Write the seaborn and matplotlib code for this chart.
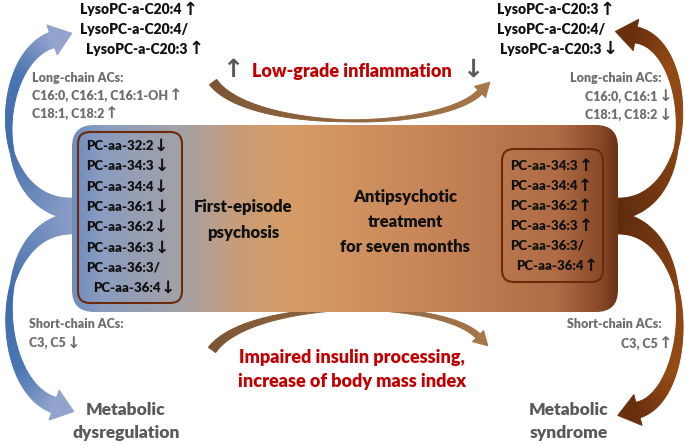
import numpy as np
import matplotlib
matplotlib.use("Agg")
import matplotlib.pyplot as plt
import seaborn as sns
from matplotlib.patches import FancyBboxPatch, Polygon
from matplotlib.colors import LinearSegmentedColormap

# ---- content ----
left_pc = ["PC-aa-32:2", "PC-aa-34:3", "PC-aa-34:4", "PC-aa-36:1",
           "PC-aa-36:2", "PC-aa-36:3", "PC-aa-36:3/", "PC-aa-36:4"]
left_pc_dir = ["↓", "↓", "↓", "↓", "↓", "↓", "", "↓"]
right_pc = ["PC-aa-34:3", "PC-aa-34:4", "PC-aa-36:2", "PC-aa-36:3",
            "PC-aa-36:3/", "PC-aa-36:4"]
right_pc_dir = ["↑", "↑", "↑", "↑", "", "↑"]

left_lyso = ["LysoPC-a-C20:4", "LysoPC-a-C20:4/", "LysoPC-a-C20:3"]
left_lyso_dir = ["↑", "", "↑"]
right_lyso = ["LysoPC-a-C20:3", "LysoPC-a-C20:4/", "LysoPC-a-C20:3"]
right_lyso_dir = ["↑", "", "↓"]

left_long = ["Long-chain ACs:", "C16:0, C16:1, C16:1-OH", "C18:1, C18:2"]
left_long_dir = ["", "↑", "↑"]
right_long = ["Long-chain ACs:", "C16:0, C16:1", "C18:1, C18:2"]
right_long_dir = ["", "↓", "↓"]

left_short = ["Short-chain ACs:", "C3, C5"]
left_short_dir = ["", "↓"]
right_short = ["Short-chain ACs:", "C3, C5"]
right_short_dir = ["", "↑"]

stage_left = ["First-episode", "psychosis"]
stage_right = ["Antipsychotic", "treatment", "for seven months"]
effect_top = "Low-grade inflammation"
effect_top_dir = ["↑", "↓"]
effect_bottom = ["Impaired insulin processing,", "increase of body mass index"]
outcome_left = ["Metabolic", "dysregulation"]
outcome_right = ["Metabolic", "syndrome"]

# ---- style ----
sns.set_theme(style="white")
FONT = ["Lato", "DejaVu Sans"]
plt.rcParams["font.family"] = FONT
W = "heavy"
RED = "#c00000"
GREY = "#6e6e6e"
DGREY = "#5a5a5a"
BLACK = "#111111"

fig = plt.figure(figsize=(6.85, 4.45), dpi=100)
ax = fig.add_axes([0, 0, 1, 1])
ax.set_xlim(0, 685)
ax.set_ylim(445, 0)
ax.axis("off")


def arrow_glyph(fs, color, **kw):
    return dict(fontsize=fs * 1.3, color=color, fontweight="bold",
                family="DejaVu Sans", va="center", **kw)


def label(x, y, s, d, fs, color, ha="left", z=5):
    """text with an up/down arrow glyph after it"""
    if ha == "left" or not d:
        t = ax.text(x, y, s, fontsize=fs, fontweight=W, color=color,
                    va="center", ha=ha, zorder=z)
        if d:
            ax.annotate(d, xy=(1, 0.5), xycoords=t, xytext=(0.5, 0),
                        textcoords="offset points", ha="left", zorder=z,
                        **arrow_glyph(fs, color))
    else:
        a = ax.text(x, y, d, ha="right", zorder=z, **arrow_glyph(fs, color))
        ax.annotate(s, xy=(0, 0.5), xycoords=a, xytext=(-0.5, 0),
                    textcoords="offset points", ha="right", va="center",
                    fontsize=fs, fontweight=W, color=color, zorder=z)


def bez(p, t):
    p = np.asarray(p, float)
    t = t[:, None]
    pts = ((1 - t) ** 3 * p[0] + 3 * (1 - t) ** 2 * t * p[1]
           + 3 * (1 - t) * t ** 2 * p[2] + t ** 3 * p[3])
    der = (3 * (1 - t) ** 2 * (p[1] - p[0]) + 6 * (1 - t) * t * (p[2] - p[1])
           + 3 * t ** 2 * (p[3] - p[2]))
    return pts, der


def swoosh(p, widths, cmap, head_w, head_l, tmid=0.4, n=160):
    t = np.linspace(0, 1, n)
    pts, der = bez(p, t)
    tang = der / np.linalg.norm(der, axis=1)[:, None]
    nrm = np.c_[-tang[:, 1], tang[:, 0]]
    w = np.interp(t, [0, tmid, 1], widths)[:, None] / 2
    L, R = pts + nrm * w, pts - nrm * w
    for i in range(n - 1):
        c = cmap(t[i])
        ax.add_patch(Polygon([L[i], L[i + 1], R[i + 1], R[i]], closed=True,
                             fc=c, ec=c, lw=0.6, zorder=2))
    tip = pts[-1] + tang[-1] * head_l
    c = cmap(1.0)
    ax.add_patch(Polygon([pts[-1] + nrm[-1] * head_w / 2, tip,
                          pts[-1] - nrm[-1] * head_w / 2], closed=True,
                         fc=c, ec=c, lw=0.6, zorder=2))


blue = LinearSegmentedColormap.from_list(
    "b", [(0, "#8a9dc6"), (0.45, "#3d6bab"), (0.75, "#4a75b2"), (1, "#93a3cd")])
brown = LinearSegmentedColormap.from_list(
    "r", [(0, "#5e2a0c"), (0.45, "#8e4512"), (0.75, "#934912"), (1, "#6a300e")])
tan = LinearSegmentedColormap.from_list("t", ["#7a5433", "#a57749"])

# big side arrows
swoosh([(74, 209), (-12, 205), (-6, 60), (52, 40)], [22, 4, 16], blue, 32, 21)
swoosh([(74, 223), (-12, 228), (-6, 385), (54, 405)], [22, 4, 16], blue, 32, 21)
swoosh([(616, 209), (700, 205), (694, 45), (636, 35)], [22, 4, 16], brown, 32, 21)
swoosh([(616, 223), (700, 228), (694, 395), (638, 410)], [22, 4, 16], brown, 32, 21)

# small arcs
swoosh([(213, 82), (250, 132), (440, 132), (480, 92)], [9, 2, 6], tan, 16, 14, tmid=0.5)
swoosh([(212, 350), (250, 298), (440, 298), (478, 336)], [9, 2, 6], tan, 16, 14, tmid=0.5)

# central gradient box
box = FancyBboxPatch((72, 125), 546, 187, boxstyle="round,pad=0,rounding_size=22",
                     fc="none", ec="none", zorder=3)
ax.add_patch(box)
stops = [(0.0, "#6f8cbc"), (0.05, "#8a9cc0"), (0.2, "#a4a2a6"), (0.3, "#c79c7a"),
         (0.4, "#d69c66"), (0.64, "#c8875a"), (0.89, "#b06c45"), (0.97, "#8a4a28"),
         (1.0, "#6b3418")]
grad = LinearSegmentedColormap.from_list("g", stops)
img = grad(np.linspace(0, 1, 600))[None, :, :]
im = ax.imshow(img, extent=(72, 618, 312, 125), aspect="auto", zorder=3,
               interpolation="bilinear")
im.set_clip_path(box)

for x0, y0, w, h in [(78, 132, 104, 171), (502, 149, 101, 133)]:
    ax.add_patch(FancyBboxPatch((x0, y0), w, h, boxstyle="round,pad=0,rounding_size=12",
                                fc="none", ec="#6b2a0a", lw=1.5, zorder=4))

# PC lists
for i, (s, d) in enumerate(zip(left_pc, left_pc_dir)):
    x = 93 if i > 0 and left_pc[i - 1].endswith("/") else 86
    label(x, 146 + i * 20.3, s, d, 9.5, BLACK)
for i, (s, d) in enumerate(zip(right_pc, right_pc_dir)):
    x = 516 if i > 0 and right_pc[i - 1].endswith("/") else 510
    label(x, 166 + i * 20, s, d, 9.5, BLACK)

# stage labels
for i, s in enumerate(stage_left):
    ax.text(243, 207 + i * 26, s, fontsize=12, fontweight=W, color=BLACK,
            ha="center", va="center", zorder=5)
for i, s in enumerate(stage_right):
    ax.text(405, 197 + i * 25, s, fontsize=12, fontweight=W, color=BLACK,
            ha="center", va="center", zorder=5)

# LysoPC
for i, (s, d) in enumerate(zip(left_lyso, left_lyso_dir)):
    x = 86 if i > 0 and left_lyso[i - 1].endswith("/") else 80
    label(x, 10 + i * 19.5, s, d, 10, BLACK)
for i, (s, d) in enumerate(zip(right_lyso, right_lyso_dir)):
    x = 500 if i > 0 and right_lyso[i - 1].endswith("/") else 497
    label(x, 10 + i * 19.5, s, d, 10, BLACK)

# acylcarnitines
for i, (s, d) in enumerate(zip(left_long, left_long_dir)):
    label(32, 78 + i * 18, s, d, 9, GREY)
for i, (s, d) in enumerate(zip(right_long, right_long_dir)):
    label(662 if not d else 672, 78 + i * 18.5, s, d, 9, GREY, ha="right")
for i, (s, d) in enumerate(zip(left_short, left_short_dir)):
    label(29, 324 + i * 19, s, d, 9, GREY)
for i, (s, d) in enumerate(zip(right_short, right_short_dir)):
    label(662 if not d else 672, 324 + i * 20, s, d, 9, GREY, ha="right")

# effects
ax.text(352, 71, effect_top, fontsize=13, fontweight=W, color=RED,
        ha="center", va="center")
ax.text(233, 70, effect_top_dir[0], **arrow_glyph(14, DGREY, ha="center"))
ax.text(473, 70, effect_top_dir[1], **arrow_glyph(14, DGREY, ha="center"))
for i, s in enumerate(effect_bottom):
    ax.text(352, 358 + i * 24, s, fontsize=13, fontweight=W, color=RED,
            ha="center", va="center")

# outcomes
for i, s in enumerate(outcome_left):
    ax.text(126, 410 + i * 23, s, fontsize=12.5, fontweight=W, color=DGREY,
            ha="center", va="center")
for i, s in enumerate(outcome_right):
    ax.text(569, 410 + i * 23, s, fontsize=12.5, fontweight=W, color=DGREY,
            ha="center", va="center")

fig.savefig("out.png", dpi=100)
